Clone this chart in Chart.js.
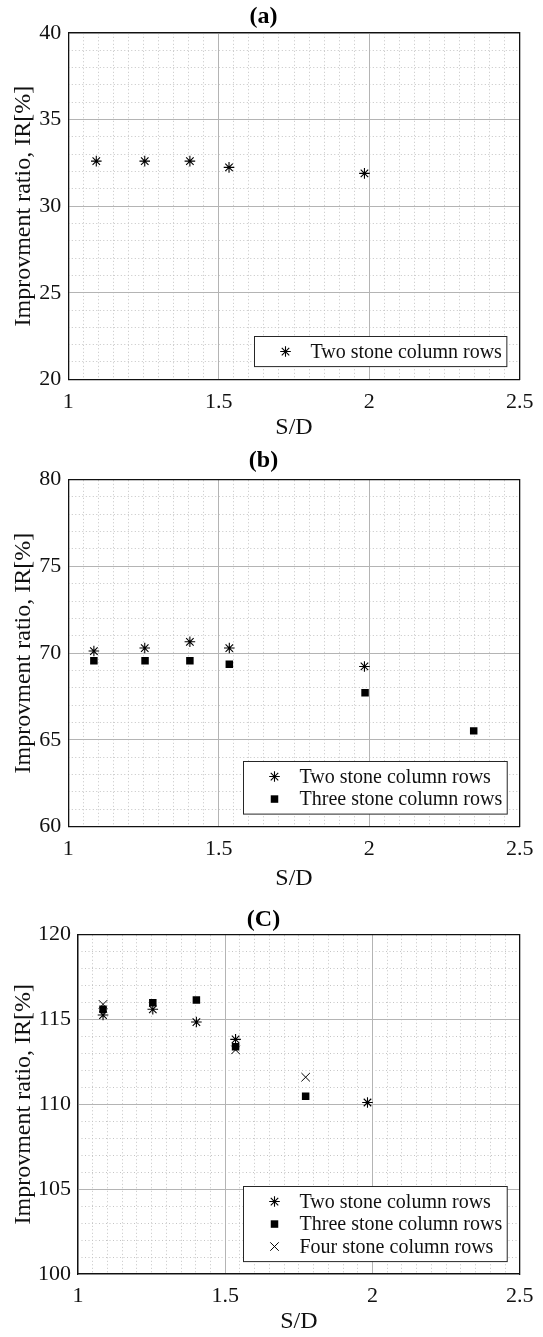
<!DOCTYPE html>
<html>
<head>
<meta charset="utf-8">
<script src="https://cdn.jsdelivr.net/npm/chart.js@4.4.1/dist/chart.umd.min.js"></script>
<style>
  html, body { margin: 0; padding: 0; background: #fff; }
  body { position: relative; width: 543px; height: 1337px; overflow: hidden; }
  .panel { position: absolute; left: 0; width: 543px; }
</style>
</head>
<body>
<div class="panel" style="top:0;height:445px"><canvas id="chart-a"></canvas></div>
<div class="panel" style="top:440px;height:455px"><canvas id="chart-b"></canvas></div>
<div class="panel" style="top:890px;height:447px"><canvas id="chart-c"></canvas></div>
<script>
// --- data ---
const seriesLabels = ["Two stone column rows", "Three stone column rows", "Four stone column rows"];
const panelTitles = ["(a)", "(b)", "(C)"];

// (a)
const sdTwoA = [1.093, 1.254, 1.404, 1.534, 1.984];
const irTwoA = [32.6, 32.6, 32.6, 32.24, 31.89];

// (b)
const sdTwoB = [1.085, 1.254, 1.404, 1.535, 1.984];
const irTwoB = [70.12, 70.29, 70.65, 70.29, 69.23];
const sdThreeB = [1.085, 1.255, 1.404, 1.535, 1.986, 2.347];
const irThreeB = [69.56, 69.56, 69.56, 69.36, 67.72, 65.52];

// (C)
const sdTwoC = [1.085, 1.254, 1.402, 1.535, 1.983];
const irTwoC = [115.25, 115.59, 114.84, 113.82, 110.1];
const sdThreeC = [1.085, 1.254, 1.402, 1.535, 1.773];
const irThreeC = [115.59, 115.98, 116.14, 113.39, 110.47];
const sdFourC = [1.085, 1.535, 1.773];
const irFourC = [115.88, 113.2, 111.59];

const xTicksRange = [1, 2.5];
const yRangeA = [20, 40];
const yRangeB = [60, 80];
const yRangeC = [100, 120];

// --- styling ---
const SERIF = "'Liberation Serif', 'Times New Roman', serif";
const INK = "#111";
const MAJOR = "#b4b4b4";
const MINOR = "#c4c4c4";

Chart.defaults.font.family = SERIF;
Chart.defaults.color = INK;

const toPoints = (xs, ys) => xs.map((x, i) => ({ x, y: ys[i] }));
const plainNum = (v) => String(Number(v.toFixed(2)));

const markerStyles = [
  { pointStyle: "star", pointRadius: 5.3, pointBorderWidth: 1.1 },
  { pointStyle: "rect", pointRadius: 5.3, pointBorderWidth: 0 },
  { pointStyle: "crossRot", pointRadius: 6, pointBorderWidth: 1 },
];

function series(idx, xs, ys) {
  return {
    label: seriesLabels[idx],
    data: toPoints(xs, ys),
    showLine: false,
    backgroundColor: "#000",
    borderColor: "#000",
    ...markerStyles[idx],
  };
}

// legend drawn as a boxed inset in the lower right corner, like MATLAB's
const boxLegend = {
  id: "boxLegend",
  afterDraw(chart) {
    const { ctx, chartArea } = chart;
    const items = chart.data.datasets;
    const rowH = 22.5, pad = 3.8, markX = 31, textX = 56;
    ctx.save();
    ctx.font = "20px " + SERIF;
    const textW = Math.max(...items.map((d) => ctx.measureText(d.label).width));
    const w = textX + textW + 5;
    const h = items.length * rowH + 2 * pad;
    const x0 = Math.round(chartArea.right - 13 - w) + 0.5;
    const y0 = Math.round(chartArea.bottom - 13 - h) + 0.5;
    ctx.fillStyle = "#fff";
    ctx.fillRect(x0, y0, w, h);
    ctx.strokeStyle = "#262626";
    ctx.lineWidth = 1;
    ctx.strokeRect(x0, y0, w, h);
    items.forEach((d, i) => {
      const cy = y0 + pad + rowH * (i + 0.5);
      ctx.fillStyle = "#000";
      ctx.strokeStyle = "#000";
      ctx.lineWidth = d.pointBorderWidth || 1;
      Chart.helpers.drawPoint(ctx, {
        pointStyle: d.pointStyle,
        radius: d.pointRadius,
        borderWidth: d.pointBorderWidth,
        rotation: 0,
      }, x0 + markX, cy);
      ctx.fillStyle = INK;
      ctx.textAlign = "left";
      ctx.textBaseline = "middle";
      ctx.fillText(d.label, x0 + textX, cy + 1);
    });
    ctx.restore();
  },
};

function makePanel(id, p) {
  const tickFont = { family: SERIF, size: 22 };
  const labelFont = { family: SERIF, size: 24, lineHeight: 1.2 };
  new Chart(document.getElementById(id), {
    type: "scatter",
    data: { datasets: p.datasets },
    plugins: [boxLegend],
    options: {
      responsive: true,
      maintainAspectRatio: false,
      animation: false,
      events: [],
      layout: { padding: { top: p.padTop, right: 16, bottom: 0, left: 0 } },
      plugins: {
        legend: { display: false },
        tooltip: { enabled: false },
        title: {
          display: true,
          text: p.title,
          color: "#000",
          font: { family: SERIF, size: 24, weight: "bold", lineHeight: 1.2 },
          padding: { top: 0, bottom: p.titleGap },
        },
      },
      scales: {
        xMinor: {
          type: "linear", axis: "x", position: "top",
          min: xTicksRange[0], max: xTicksRange[1],
          ticks: { display: false, stepSize: 0.05, maxTicksLimit: 1000 },
          grid: { color: MINOR, lineWidth: 1, drawTicks: false, z: -1 },
          border: { color: INK, width: 1.3, dash: [1, 2.5], z: 1 },
          afterFit: (s) => { s.height = 0; },
        },
        yMinor: {
          type: "linear", axis: "y", position: "right",
          min: p.yRange[0], max: p.yRange[1],
          ticks: { display: false, stepSize: 1, maxTicksLimit: 1000 },
          grid: { color: MINOR, lineWidth: 1, drawTicks: false, z: -1 },
          border: { color: INK, width: 1.3, dash: [1, 2.5], z: 1 },
          afterFit: (s) => { s.width = 0; },
        },
        x: {
          type: "linear", position: "bottom",
          min: xTicksRange[0], max: xTicksRange[1],
          ticks: { stepSize: 0.5, font: tickFont, color: INK, padding: 9.5, maxRotation: 0, autoSkip: false, callback: plainNum },
          grid: { color: MAJOR, lineWidth: 1, drawTicks: false },
          border: { color: INK, width: 1.3, z: 1 },
          title: { display: true, text: "S/D", font: labelFont, color: INK, padding: { top: 0, bottom: p.xTitlePad } },
          afterFit: (s) => { s.height = p.xAxisH; },
        },
        y: {
          type: "linear", position: "left",
          min: p.yRange[0], max: p.yRange[1],
          ticks: { stepSize: 5, font: tickFont, color: INK, padding: 7, callback: plainNum },
          grid: { color: MAJOR, lineWidth: 1, drawTicks: false },
          border: { color: INK, width: 1.3, z: 1 },
          title: { display: true, text: "Improvment ratio, IR[%]", font: labelFont, color: INK, padding: { top: 9.6, bottom: 0 } },
          afterFit: (s) => { s.width = p.plotLeft; },
        },
      },
    },
  });
}

makePanel("chart-a", {
  title: panelTitles[0], yRange: yRangeA,
  padTop: 2.1, titleGap: 2.1, plotLeft: 68.3, xAxisH: 65.7, xTitlePad: 2.6,
  datasets: [series(0, sdTwoA, irTwoA)],
});

makePanel("chart-b", {
  title: panelTitles[1], yRange: yRangeB,
  padTop: 6.6, titleGap: 4.1, plotLeft: 68.3, xAxisH: 68.3, xTitlePad: 2.3,
  datasets: [series(0, sdTwoB, irTwoB), series(1, sdThreeB, irThreeB)],
});

makePanel("chart-c", {
  title: panelTitles[2], yRange: yRangeC,
  padTop: 15.6, titleGap: 0, plotLeft: 78, xAxisH: 63, xTitlePad: 0.9,
  datasets: [series(0, sdTwoC, irTwoC), series(1, sdThreeC, irThreeC), series(2, sdFourC, irFourC)],
});
</script>
</body>
</html>
